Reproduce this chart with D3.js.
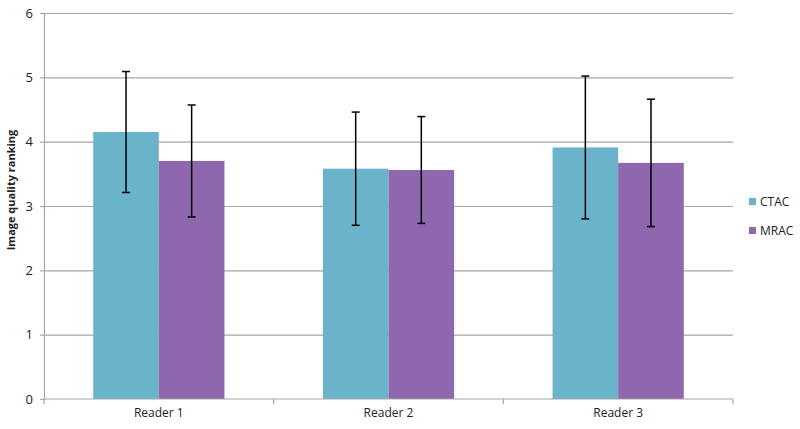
<!DOCTYPE html>
<meta charset="utf-8">
<head>
    <script type="text/javascript" src="https://d3js.org/d3.v7.min.js"></script>
    <style>
        body { margin: 0; background: #fff; }
        text { font-family: "Open Sans", "Liberation Sans", sans-serif; fill: #222; }
        .grid line { stroke: #a6a6a6; }
    </style>
</head>
<body>
<div id="chart"></div>
</body>
<script>
    // data
    var readers = ["Reader 1", "Reader 2", "Reader 3"];
    var series = ["CTAC", "MRAC"];
    var ctacMeans = [4.15, 3.58, 3.91];
    var ctacErr = [0.94, 0.88, 1.11];
    var mracMeans = [3.70, 3.56, 3.67];
    var mracErr = [0.87, 0.83, 0.99];
    var yTicks = [0, 1, 2, 3, 4, 5, 6];
    var colors = ["#6ab4cb", "#8e67ae"];

    var width = 800, height = 429;
    var margin = {top: 13, right: 67, bottom: 30, left: 44};

    var svg = d3.select("#chart").append("svg")
        .attr("width", width)
        .attr("height", height);

    var rows = [];
    readers.forEach(function (r, i) {
        rows.push({reader: r, s: "CTAC", v: ctacMeans[i], e: ctacErr[i]});
        rows.push({reader: r, s: "MRAC", v: mracMeans[i], e: mracErr[i]});
    });

    var y = d3.scaleLinear().domain([0, 6]).range([height - margin.bottom, margin.top]);
    var x0 = d3.scaleBand().domain(readers).range([margin.left, width - margin.right]).padding(0);
    var x1 = d3.scaleBand().domain(series).range([0, x0.bandwidth()]).paddingInner(0).paddingOuter(0.75);
    var color = d3.scaleOrdinal().domain(series).range(colors);

    // gridlines
    svg.append("g").attr("class", "grid")
        .selectAll("line").data(yTicks.filter(function (t) { return t > 0; }))
        .join("line")
        .attr("x1", margin.left).attr("x2", width - margin.right)
        .attr("y1", function (d) { return y(d) + 0.5; })
        .attr("y2", function (d) { return y(d) + 0.5; })
        .attr("stroke-width", 1.2);

    // bars
    svg.append("g").selectAll("rect").data(rows)
        .join("rect")
        .attr("x", function (d) { return x0(d.reader) + x1(d.s); })
        .attr("width", x1.bandwidth())
        .attr("y", function (d) { return y(d.v); })
        .attr("height", function (d) { return y(0) - y(d.v); })
        .attr("fill", function (d) { return color(d.s); });

    // y axis
    var yAxis = svg.append("g")
        .attr("transform", "translate(" + margin.left + ",0)")
        .call(d3.axisLeft(y).tickValues(yTicks).tickSize(4).tickPadding(7).tickFormat(d3.format("d")));
    yAxis.select(".domain").attr("stroke", "#a6a6a6").attr("stroke-width", 1.2);
    yAxis.selectAll(".tick line").attr("stroke", "#a6a6a6").attr("stroke-width", 1.2);
    yAxis.selectAll("text").style("font-size", "13px").attr("fill", "#222");

    // x axis
    var xAxis = svg.append("g")
        .attr("transform", "translate(0," + y(0) + ")");
    xAxis.append("line")
        .attr("x1", margin.left).attr("x2", width - margin.right)
        .attr("stroke", "#a6a6a6").attr("stroke-width", 1.2);
    var bounds = readers.map(function (r) { return x0(r); }).concat([x0(readers[2]) + x0.bandwidth()]);
    xAxis.selectAll("line.tk").data(bounds).join("line")
        .attr("class", "tk")
        .attr("x1", function (d) { return d; }).attr("x2", function (d) { return d; })
        .attr("y1", 0).attr("y2", 5)
        .attr("stroke", "#a6a6a6").attr("stroke-width", 1.2);
    xAxis.selectAll("text").data(readers).join("text")
        .attr("x", function (d) { return x0(d) + x0.bandwidth() / 2; })
        .attr("y", 18)
        .attr("text-anchor", "middle")
        .style("font-size", "12px")
        .text(function (d) { return d; });

    // error bars
    var eb = svg.append("g").selectAll("g").data(rows).join("g")
        .attr("transform", function (d) {
            return "translate(" + (x0(d.reader) + x1(d.s) + x1.bandwidth() / 2) + ",0)";
        });
    eb.append("line")
        .attr("y1", function (d) { return y(d.v + d.e); })
        .attr("y2", function (d) { return y(d.v - d.e); })
        .attr("stroke", "#000").attr("stroke-width", 1.5);
    eb.append("line")
        .attr("x1", -4).attr("x2", 4)
        .attr("y1", function (d) { return y(d.v + d.e); })
        .attr("y2", function (d) { return y(d.v + d.e); })
        .attr("stroke", "#000").attr("stroke-width", 1.5);
    eb.append("line")
        .attr("x1", -4).attr("x2", 4)
        .attr("y1", function (d) { return y(d.v - d.e); })
        .attr("y2", function (d) { return y(d.v - d.e); })
        .attr("stroke", "#000").attr("stroke-width", 1.5);

    // y title
    svg.append("text")
        .attr("transform", "translate(15,190) rotate(-90)")
        .attr("text-anchor", "middle")
        .style("font-size", "11px")
        .style("font-weight", "bold")
        .text("Image quality ranking");

    // legend
    var lg = svg.append("g").selectAll("g").data(series).join("g")
        .attr("transform", function (d, i) { return "translate(749," + (202 + i * 29) + ")"; });
    lg.append("rect")
        .attr("x", 0).attr("y", -4).attr("width", 7).attr("height", 7)
        .attr("fill", function (d) { return color(d); });
    lg.append("text")
        .attr("x", 11).attr("y", 0).attr("dy", "0.35em")
        .style("font-size", "12px")
        .text(function (d) { return d; });
</script>
</html>
